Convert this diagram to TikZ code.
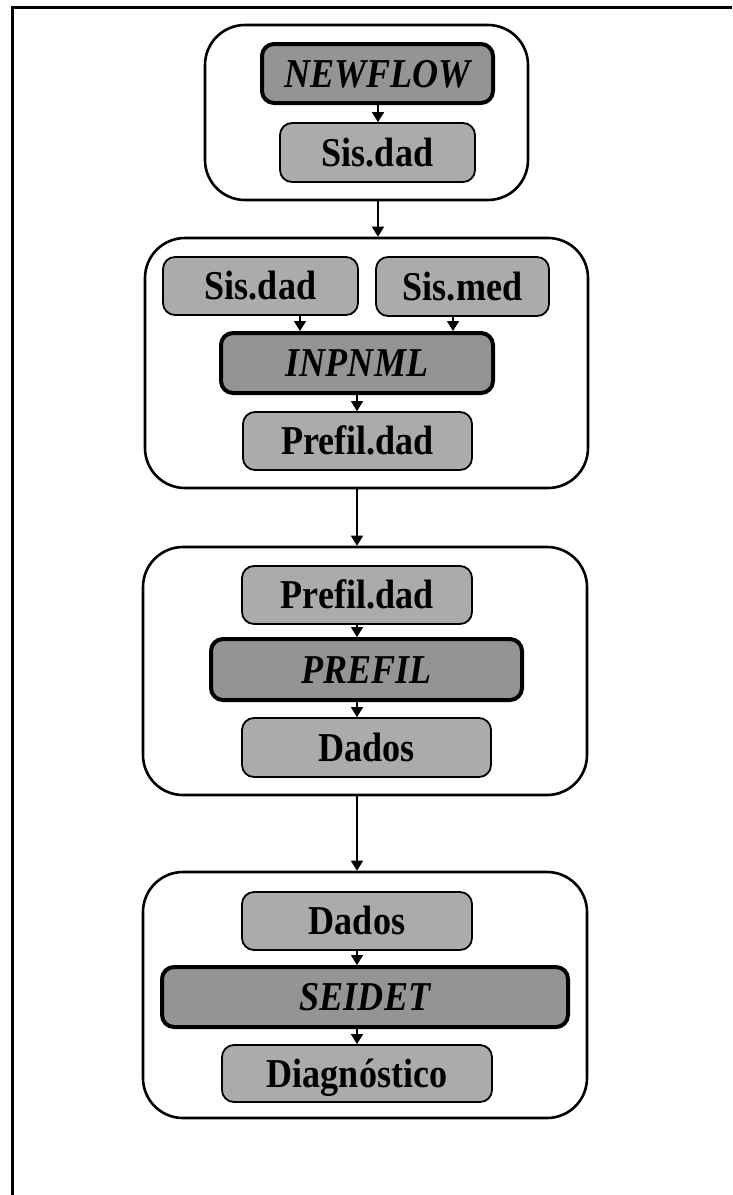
\documentclass[tikz,border=0pt]{standalone}
\usepackage{fontspec}
\setmainfont{Liberation Serif}[FakeStretch=0.88]
\usetikzlibrary{arrows.meta}
\begin{document}
\begin{tikzpicture}[x=1pt,y=-1pt,
  stage/.style={draw, line width=2.6pt, rounded corners=40pt, fill=white, inner sep=0pt},
  boxtext/.style={inner sep=0pt, text height=27pt, text depth=0pt,
    font=\fontsize{41}{44}\selectfont\bfseries},
  datafile/.style={boxtext, draw, line width=1.8pt, rounded corners=12pt, fill=black!33},
  program/.style={boxtext, draw, line width=4pt, rounded corners=12pt, fill=black!42,
    font=\fontsize{41}{44}\selectfont\bfseries\itshape},
  flow/.style={-{Triangle[width=12pt,length=10pt]}, line width=1.6pt},
]
\useasboundingbox (0,0) rectangle (732,1195);

% page frame (left and top rules)
\coordinate (ftl) at (12,7);
\coordinate (fbl) at (12,1195);
\coordinate (ftr) at (732,7);
\draw[line width=3pt] (fbl) -- (ftl) -- (ftr);

% stage containers
\node[stage, minimum width=323pt, minimum height=175pt] (s1) at (366.5,112.5) {};
\node[stage, minimum width=443pt, minimum height=250pt] (s2) at (366.5,363) {};
\node[stage, minimum width=444pt, minimum height=248pt] (s3) at (365,671) {};
\node[stage, minimum width=444pt, minimum height=246pt] (s4) at (365,995) {};

% stage 1
\node[program, minimum width=231pt, minimum height=59pt] (newflow) at (377.5,73.5) {NEWFLOW};
\node[datafile, minimum width=195pt, minimum height=59pt] (sisdadA) at (377.5,152.5) {Sis.dad};

% stage 2
\node[datafile, minimum width=195pt, minimum height=58pt] (sisdadB) at (260.5,286) {Sis.dad};
\node[datafile, minimum width=173pt, minimum height=59pt] (sismed) at (462.5,286.5) {Sis.med};
\node[program, minimum width=272pt, minimum height=60pt] (inpnml) at (357,363) {INPNML};
\node[datafile, minimum width=229pt, minimum height=58pt] (prefdadA) at (357.5,441) {Prefil.dad};

% stage 3
\node[datafile, minimum width=230pt, minimum height=58pt] (prefdadB) at (357,595) {Prefil.dad};
\node[program, minimum width=311pt, minimum height=61pt] (prefil) at (366.5,669.5) {PREFIL};
\node[datafile, minimum width=249pt, minimum height=59pt] (dadosA) at (366.5,747.5) {Dados};

% stage 4
\node[datafile, minimum width=230pt, minimum height=58pt] (dadosB) at (357,921) {Dados};
\node[program, minimum width=406pt, minimum height=60pt] (seidet) at (365,997) {SEIDET};
\node[datafile, minimum width=270pt, minimum height=57pt] (diag) at (357,1073.5) {Diagnóstico};

% arrow columns
\coordinate (cA) at (378,0);
\coordinate (cB) at (357,0);
\coordinate (cL) at (300,0);
\coordinate (cR) at (453,0);

\draw[flow] (newflow.south -| cA) -- (sisdadA.north -| cA);
\draw[flow] (s1.south -| cA) -- (s2.north -| cA);
\draw[flow] (sisdadB.south -| cL) -- (inpnml.north -| cL);
\draw[flow] (sismed.south -| cR) -- (inpnml.north -| cR);
\draw[flow] (inpnml.south -| cB) -- (prefdadA.north -| cB);
\draw[flow] (s2.south -| cB) -- (s3.north -| cB);
\draw[flow] (prefdadB.south -| cB) -- (prefil.north -| cB);
\draw[flow] (prefil.south -| cB) -- (dadosA.north -| cB);
\draw[flow] (s3.south -| cB) -- (s4.north -| cB);
\draw[flow] (dadosB.south -| cB) -- (seidet.north -| cB);
\draw[flow] (seidet.south -| cB) -- (diag.north -| cB);
\end{tikzpicture}
\end{document}
